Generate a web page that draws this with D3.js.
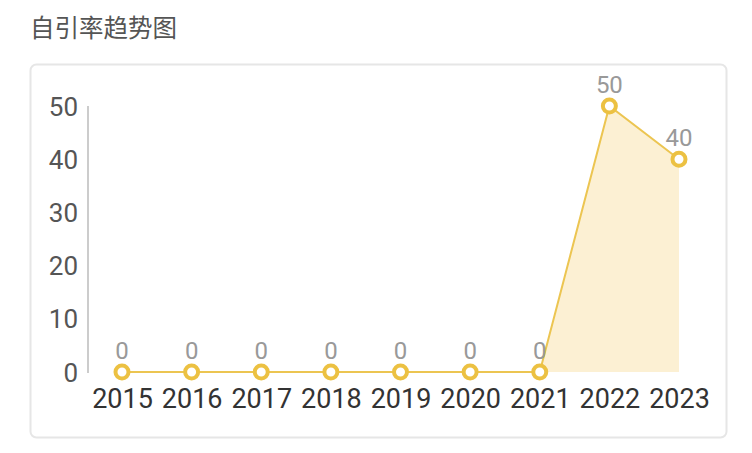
<!DOCTYPE html>
<html>
<head>
<meta charset="utf-8">
<script src="https://cdn.jsdelivr.net/npm/d3@7"></script>
<style>
  body { margin: 0; background: #fff; font-family: Roboto, "Noto Sans CJK SC", sans-serif; }
</style>
</head>
<body>
<div id="chart"></div>
<script>
// data
var years = ["2015", "2016", "2017", "2018", "2019", "2020", "2021", "2022", "2023"];
var rates = [0, 0, 0, 0, 0, 0, 0, 50, 40];
var yTicks = [0, 10, 20, 30, 40, 50];

var W = 752, H = 453;
var svg = d3.select("#chart").append("svg")
    .attr("width", W)
    .attr("height", H);

// title
svg.append("text")
    .attr("x", 30)
    .attr("y", 37)
    .attr("font-family", "'Noto Sans CJK SC', sans-serif")
    .attr("font-size", 24.5)
    .attr("fill", "#555")
    .text("自引率趋势图");

// card
svg.append("rect")
    .attr("x", 30.5).attr("y", 64.5)
    .attr("width", 696).attr("height", 373)
    .attr("rx", 6)
    .attr("fill", "#fff")
    .attr("stroke", "#e6e6e6")
    .attr("stroke-width", 2);

var x = d3.scalePoint()
    .domain(years)
    .range([122, 679]);

var y = d3.scaleLinear()
    .domain([0, 50])
    .range([372, 106]);

// y axis
var yAxis = svg.append("g")
    .attr("transform", "translate(88,0)")
    .call(d3.axisLeft(y).tickValues(yTicks).tickSize(0).tickPadding(10));
yAxis.select(".domain").attr("stroke", "#ccc").attr("stroke-width", 2)
    .attr("d", "M0," + y(50) + "V" + (y(0) + 1));
yAxis.selectAll("text")
    .attr("font-family", "Roboto, sans-serif")
    .attr("font-size", 26)
    .attr("fill", "#555")
    .attr("dy", "0.35em");

// x axis
var xAxis = svg.append("g")
    .attr("transform", "translate(0," + y(0) + ")")
    .call(d3.axisBottom(x).tickSize(0).tickPadding(17));
xAxis.select(".domain").remove();
xAxis.selectAll("text")
    .attr("font-family", "Roboto, sans-serif")
    .attr("font-size", 27)
    .attr("fill", "#333");

var pts = years.map(function(d, i) { return { year: d, v: rates[i] }; });

// area
var area = d3.area()
    .x(function(d) { return x(d.year); })
    .y0(y(0))
    .y1(function(d) { return y(d.v); });
svg.append("path")
    .datum(pts)
    .attr("d", area)
    .attr("fill", "#fcf0d3");

// line
var line = d3.line()
    .x(function(d) { return x(d.year); })
    .y(function(d) { return y(d.v); });
svg.append("path")
    .datum(pts)
    .attr("d", line)
    .attr("fill", "none")
    .attr("stroke", "#ecc551")
    .attr("stroke-width", 2);

// points
svg.selectAll(".dot")
    .data(pts)
    .enter()
    .append("circle")
    .attr("class", "dot")
    .attr("cx", function(d) { return x(d.year); })
    .attr("cy", function(d) { return y(d.v); })
    .attr("r", 6.5)
    .attr("fill", "#fff")
    .attr("stroke", "#ecc142")
    .attr("stroke-width", 4);

// value labels
svg.selectAll(".label")
    .data(pts)
    .enter()
    .append("text")
    .attr("class", "label")
    .attr("x", function(d) { return x(d.year); })
    .attr("y", function(d) { return y(d.v) - 13; })
    .attr("text-anchor", "middle")
    .attr("font-family", "Roboto, sans-serif")
    .attr("font-size", 24)
    .attr("fill", "#999")
    .text(function(d) { return d.v; });
</script>
</body>
</html>
